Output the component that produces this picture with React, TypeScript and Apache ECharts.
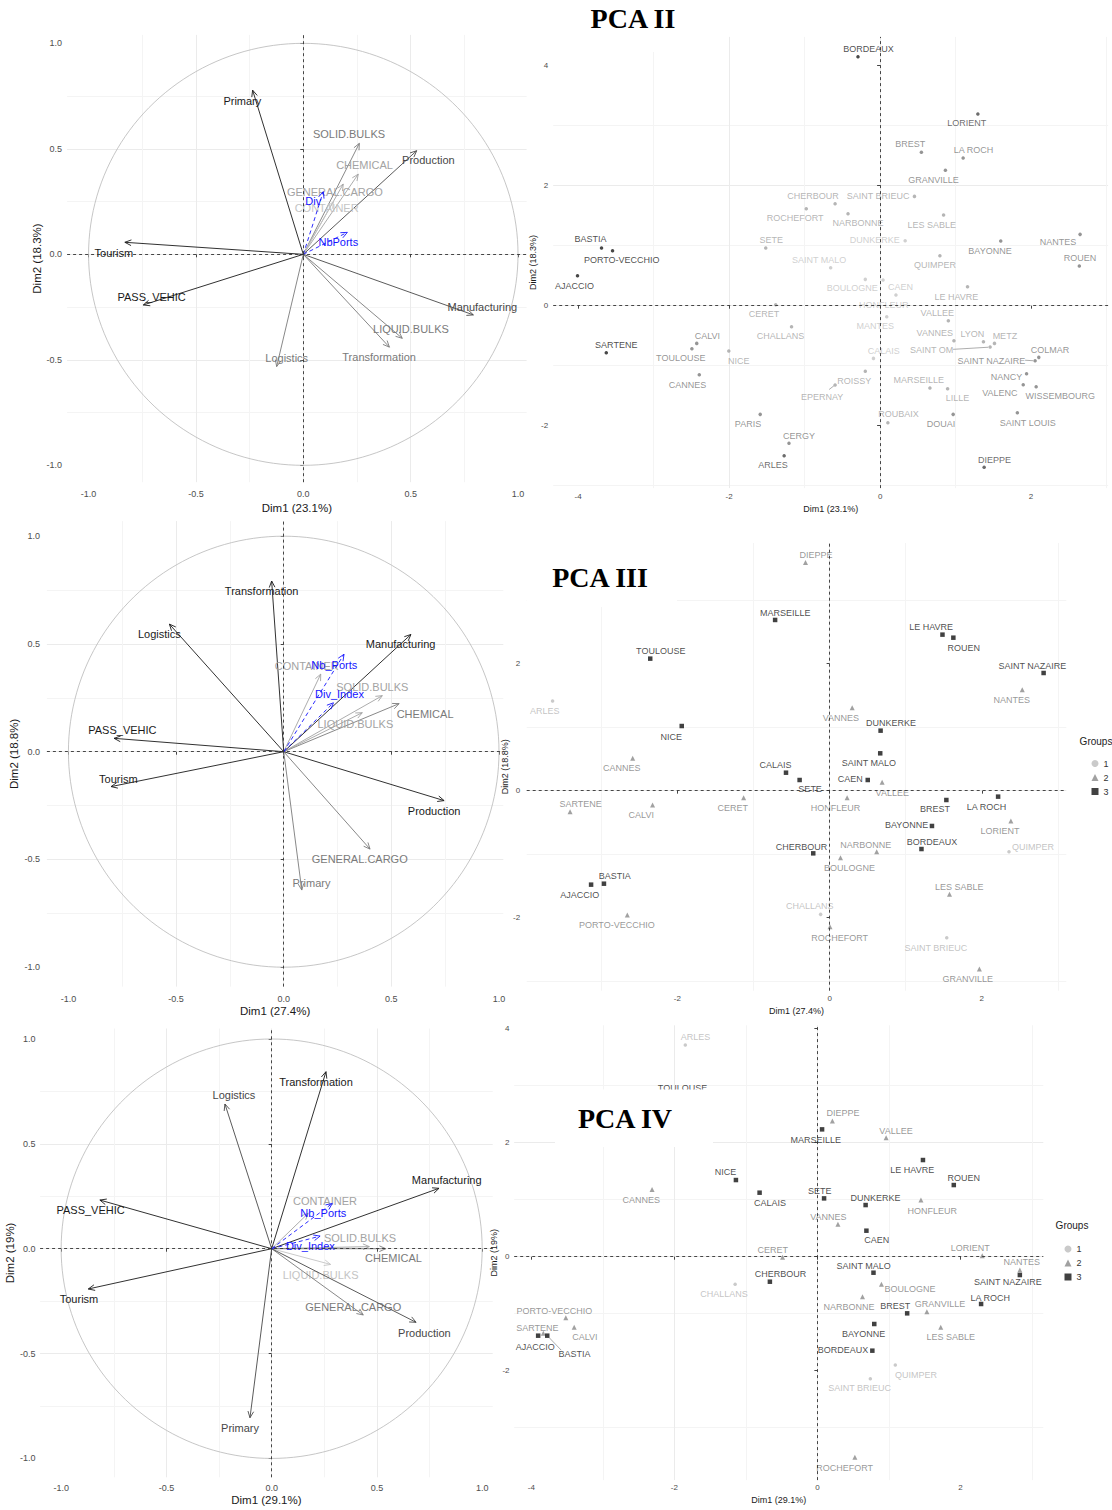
import React, { useEffect, useRef } from "react";
import * as echarts from "echarts";

const FONT = "'Liberation Sans', Arial, sans-serif";
const LABEL_FONT = "'Liberation Sans', Arial, sans-serif";

const CIRCLE_TICKS = [-1, -0.5, 0, 0.5, 1];
const IND_TICKS = [-4, -2, 0, 2, 4];

// ---------- PCA II : variables (contribution class 0 = highest, -1 = supplementary)
const PCA2_VARS = ["Primary", "SOLID.BULKS", "Production", "CHEMICAL", "GENERAL.CARGO", "CONTAINER", "Tourism", "PASS_VEHIC", "Manufacturing", "LIQUID.BULKS", "Transformation", "Logistics", "Div", "NbPorts"];
const PCA2_VAR_X = [-0.236, 0.261, 0.528, 0.256, 0.186, 0.14, -0.831, -0.745, 0.792, 0.461, 0.401, -0.124, 0.093, 0.205];
const PCA2_VAR_Y = [0.778, 0.526, 0.491, 0.38, 0.333, 0.249, 0.057, -0.24, -0.287, -0.398, -0.44, -0.532, 0.297, 0.104];
const PCA2_VAR_CONTRIB = [0, 2, 1, 3, 3, 4, 0, 0, 1, 2, 2, 2, -1, -1];

// ---------- PCA II : individuals
const PCA2_CITIES = ["BORDEAUX", "LORIENT", "BREST", "LA ROCH", "GRANVILLE", "CHERBOUR", "SAINT BRIEUC", "ROCHEFORT", "NARBONNE", "LES SABLE", "SETE", "DUNKERKE", "BAYONNE", "NANTES", "ROUEN", "QUIMPER", "SAINT MALO", "BASTIA", "PORTO-VECCHIO", "AJACCIO", "BOULOGNE", "CAEN", "HONFLEUR", "LE HAVRE", "VALLEE", "MANTES", "CERET", "CHALLANS", "VANNES", "LYON", "METZ", "SAINT OM", "CALAIS", "COLMAR", "SAINT NAZAIRE", "NANCY", "VALENC", "WISSEMBOURG", "MARSEILLE", "LILLE", "ROISSY", "EPERNAY", "PARIS", "ROUBAIX", "DOUAI", "SAINT LOUIS", "CERGY", "ARLES", "DIEPPE", "SARTENE", "CALVI", "TOULOUSE", "NICE", "CANNES"];
const PCA2_X = [-0.293, 1.295, 0.547, 1.1, 0.865, -0.596, 0.455, -0.978, -0.425, 0.841, -1.515, 0.332, 1.598, 2.649, 2.639, 0.792, -0.655, -3.69, -3.544, -4.008, -0.196, 0.039, 0.21, 1.158, 0.904, 0.088, -1.383, -1.173, 0.978, 1.369, 1.515, 1.457, -0.088, 2.102, 2.053, 1.94, 1.896, 2.067, 0.66, 0.894, -0.196, -0.596, -1.588, 0.103, 0.968, 1.818, -1.207, -1.271, 1.378, -3.627, -2.429, -2.493, -2.004, -2.395];
const PCA2_Y = [4.15, 3.194, 2.556, 2.461, 2.256, 1.7, 1.822, 1.617, 1.533, 1.511, 0.961, 1.083, 1.078, 1.189, 0.661, 0.833, 0.633, 0.961, 0.917, 0.5, 0.439, 0.428, 0.178, 0.317, -0.25, -0.183, 0.017, -0.35, -0.583, -0.6, -0.628, -0.689, -0.878, -0.861, -0.917, -1.133, -1.317, -1.35, -1.372, -1.383, -1.094, -1.322, -1.811, -1.95, -1.811, -1.783, -2.294, -2.5, -2.694, -0.783, -0.628, -0.717, -0.756, -1.15];
const PCA2_CONTRIB = [0, 1, 2, 2, 2, 3, 3, 3, 3, 3, 3, 4, 2, 2, 2, 3, 4, 0, 0, 0, 4, 4, 4, 3, 3, 4, 3, 3, 3, 3, 3, 3, 4, 2, 2, 2, 2, 2, 3, 3, 3, 3, 2, 3, 2, 2, 2, 1, 1, 0, 2, 2, 3, 2];

// ---------- PCA III : variables
const PCA3_VARS = ["Transformation", "Logistics", "Manufacturing", "CONTAINER", "SOLID.BULKS", "CHEMICAL", "LIQUID.BULKS", "PASS_VEHIC", "Tourism", "Production", "GENERAL.CARGO", "Primary", "Nb_Ports", "Div_Index"];
const PCA3_VAR_X = [-0.056, -0.531, 0.591, 0.172, 0.458, 0.536, 0.365, -0.788, -0.802, 0.745, 0.401, 0.084, 0.28, 0.231];
const PCA3_VAR_Y = [0.792, 0.592, 0.544, 0.36, 0.26, 0.223, 0.181, 0.062, -0.162, -0.227, -0.452, -0.642, 0.452, 0.227];
const PCA3_VAR_CONTRIB = [0, 0, 0, 3, 3, 2, 3, 0, 0, 0, 2, 2, -1, -1];

// ---------- PCA III : individuals
const PCA3_CITIES = ["DIEPPE", "MARSEILLE", "LE HAVRE", "ROUEN", "TOULOUSE", "SAINT NAZAIRE", "NANTES", "ARLES", "VANNES", "NICE", "DUNKERKE", "SAINT MALO", "CANNES", "CALAIS", "SETE", "CAEN", "VALLEE", "SARTENE", "CALVI", "CERET", "HONFLEUR", "BREST", "LA ROCH", "LORIENT", "BAYONNE", "BORDEAUX", "QUIMPER", "CHERBOUR", "NARBONNE", "BOULOGNE", "BASTIA", "AJACCIO", "LES SABLE", "CHALLANS", "PORTO-VECCHIO", "ROCHEFORT", "SAINT BRIEUC", "GRANVILLE"];
const PCA3_X = [-0.317, -0.716, 1.483, 1.626, -2.357, 2.812, 2.531, -3.64, 0.297, -1.943, 0.67, 0.665, -2.587, -0.573, -0.394, 0.501, 0.69, -3.41, -2.326, -1.13, 0.23, 1.534, 2.214, 2.382, 1.345, 1.207, 2.357, -0.215, 0.619, 0.143, -2.965, -3.134, 1.575, -0.118, -2.658, 0.005, 1.539, 1.968];
const PCA3_Y = [3.591, 2.688, 2.457, 2.409, 2.079, 1.853, 1.591, 1.412, 1.307, 1.018, 0.945, 0.588, 0.509, 0.283, 0.168, 0.168, 0.131, -0.331, -0.226, -0.11, -0.11, -0.147, -0.094, -0.478, -0.556, -0.919, -0.961, -0.987, -0.961, -1.055, -1.465, -1.48, -1.633, -1.948, -1.958, -2.142, -2.315, -2.808];
const PCA3_GROUP = [2, 3, 3, 3, 3, 3, 2, 1, 2, 3, 3, 3, 2, 3, 3, 3, 2, 2, 2, 2, 2, 3, 3, 2, 3, 3, 1, 3, 2, 2, 3, 3, 2, 1, 2, 2, 1, 2];

// ---------- PCA IV : variables
const PCA4_VARS = ["Transformation", "Logistics", "Manufacturing", "PASS_VEHIC", "CONTAINER", "SOLID.BULKS", "CHEMICAL", "LIQUID.BULKS", "GENERAL.CARGO", "Production", "Tourism", "Primary", "Nb_Ports", "Div_Index"];
const PCA4_VAR_X = [0.258, -0.222, 0.795, -0.816, 0.174, 0.464, 0.542, 0.28, 0.435, 0.686, -0.871, -0.103, 0.288, 0.23];
const PCA4_VAR_Y = [0.844, 0.69, 0.288, 0.232, 0.169, 0.01, 0.0, -0.075, -0.316, -0.351, -0.192, -0.806, 0.216, 0.06];
const PCA4_VAR_CONTRIB = [0, 1, 0, 0, 3, 3, 2, 4, 2, 1, 0, 1, -1, -1];

// ---------- PCA IV : individuals
const PCA4_CITIES = ["ARLES", "TOULOUSE", "DIEPPE", "MARSEILLE", "VALLEE", "LE HAVRE", "ROUEN", "NICE", "CANNES", "CALAIS", "SETE", "DUNKERKE", "HONFLEUR", "VANNES", "CAEN", "CERET", "LORIENT", "NANTES", "SAINT NAZAIRE", "SAINT MALO", "CHERBOUR", "CHALLANS", "BOULOGNE", "NARBONNE", "BREST", "GRANVILLE", "LA ROCH", "PORTO-VECCHIO", "SARTENE", "AJACCIO", "BASTIA", "CALVI", "BAYONNE", "LES SABLE", "BORDEAUX", "QUIMPER", "SAINT BRIEUC", "ROCHEFORT"];
const PCA4_X = [-1.847, -1.56, 0.21, 0.066, 0.962, 1.477, 1.908, -1.139, -2.312, -0.808, 0.094, 0.675, 1.449, 0.288, 0.686, -0.487, 2.306, 2.832, 2.832, 0.785, -0.664, -1.15, 0.896, 0.631, 1.256, 1.532, 2.29, -3.518, -3.833, -3.905, -3.778, -3.401, 0.796, 1.726, 0.769, 1.09, 0.741, 0.525];
const PCA4_Y = [3.713, 2.854, 2.38, 2.234, 2.088, 1.696, 1.257, 1.345, 1.181, 1.123, 1.023, 0.906, 0.994, 0.567, 0.456, -0.012, 0.018, -0.234, -0.322, -0.281, -0.439, -0.485, -0.485, -0.702, -0.994, -0.965, -0.83, -1.07, -1.345, -1.386, -1.386, -1.24, -1.181, -1.24, -1.649, -1.901, -2.14, -3.52];
const PCA4_GROUP = [1, 3, 2, 3, 2, 3, 3, 3, 2, 3, 3, 3, 2, 2, 3, 2, 2, 2, 3, 3, 3, 1, 2, 2, 3, 2, 3, 2, 2, 3, 3, 2, 3, 2, 3, 1, 1, 2];

// ---------- layout: label offsets (px) from arrow tip / point
const PCA2_VAR_OFF = [[-10.3, 10.7], [-10.3, -9.3], [11.7, 9.3], [6.3, -9], [-8.3, 7.7], [-6.7, 6.7], [-11, 10.3], [8.3, -8.3], [9, -8.3], [8.7, -9], [-10.3, 10.3], [10, -8.3], [-10, 9], [-9, 10]];
const PCA3_VAR_OFF = [[-10, 10], [-10, 10.3], [-10.3, 10], [-14, -8.6], [-10, -8.3], [26, 10.3], [-6.9, 11.3], [8.3, -8.3], [7.3, -8], [-10, 10.3], [-10.3, 10], [9.7, -7.3], [-9.7, 10.3], [6, -8.7]];
const PCA4_VAR_OFF = [[-10, 10], [9, -8.7], [7.7, -8.3], [-9.3, 10], [16.7, -12.7], [-9.3, -8.3], [7.7, 9], [-10, 10.7], [-10, -8.3], [8.3, 11], [-9.3, 10], [-10, 10], [-9, 9.3], [-9.7, 10]];
const PCA2_OFF = [[10.4, -7.7], [-11.1, 9.3], [-11.1, -8.3], [10.4, -8], [-11.8, 9.7], [-22.2, -8], [-36.3, -0.7], [-11.1, 9.7], [10, 9.7], [-11.8, 10], [5.5, -8], [-30.3, -0.7], [-10.7, 9.7], [-22.2, 7.7], [0.7, -8], [-4.8, 9.7], [-11.5, -7.7], [-11.1, -8.7], [9.2, 9.3], [-3, 10], [-13, 9], [17.4, 7.3], [-12.2, 10], [-11.1, 10], [-11.1, -8], [-11.5, 9.3], [-11.8, 9.7], [-11.1, 9.3], [-19.2, -8], [-11.1, -7.7], [10.4, -7.3], [-58.5, 3], [10.4, -7.7], [11.1, -7.3], [-43.7, 0], [-20, 3], [-23.3, 8], [24, 9.3], [-11.1, -8], [10, 9.7], [-11.1, 9.7], [-13, 11.7], [-12.2, 9.7], [10.7, -8.3], [-12.2, 9.7], [10.4, 10.7], [10, -7.7], [-11.1, 9.3], [10.4, -7.3], [10, -7.7], [10.7, -7.3], [-11.1, 9.7], [10, 9.7], [-11.8, 10]];
const PCA3_OFF = [[10.5, -7.7], [10.1, -7.3], [-11.3, -7.3], [10.5, 10.7], [10.5, -7.3], [-11.3, -7], [-10.5, 10.3], [-7.8, 10], [-11.3, 10], [-10.5, 10.7], [10.5, -8], [-11.3, 10], [-10.9, 9.3], [-10.5, -7.3], [10.5, 9], [-17.5, -0.7], [10.1, 11], [10.5, -7.3], [-11.3, 10], [-10.9, 10.3], [-11.7, 10.3], [-11.3, 9.3], [-11.7, 10], [-10.9, 10], [-25.3, -0.7], [10.5, -7.3], [24.1, -5], [-11.7, -6.7], [-10.9, -6.7], [9, 10.3], [10.9, -7.7], [-11.3, 10], [9.7, -7], [-10.9, -8.3], [-10.5, 10], [9.7, 11.3], [-10.9, 10], [-11.7, 10.3]];
const PCA4_OFF = [[10.3, -7.7], [-23.3, -5.7], [10.7, -7.7], [-6.3, 10.7], [9.9, -7], [-10.7, 10], [9.9, -7.3], [-10.3, -7.7], [-10.7, 10.7], [10.3, 10.7], [-4.3, -7.7], [9.9, -6.7], [11.3, 10.7], [-9.5, -7.7], [10.3, 9.3], [-9.9, -7.3], [-11.9, -8], [2, -8.3], [-11.9, 7.3], [-9.9, -7], [10.7, -7.7], [-11.1, 10], [28.5, 5], [-13.4, 10], [-11.9, -7.3], [13, -7.3], [9.1, -5.7], [-11.5, -7], [-5.9, -5], [-2.8, 11], [27.3, 18], [10.7, 10], [-10.7, 10], [9.9, 10], [-29.3, -0.7], [20.6, 10], [-10.7, 9], [-10.3, 10.3]];
// leader segments: [city, x1, y1, x2, y2] px offsets from the point
const PCA2_LEADERS: [string, number, number, number, number][] = [["SAINT OM", -37, 2.3, -2, 0.2], ["SAINT NAZAIRE", -10, -0.5, -2, 0], ["EPERNAY", -6, 4.5, -1.2, 0.8]];
const PCA4_LEADERS: [string, number, number, number, number][] = [["BASTIA", 2, 2, 14, 14.5]];

const LEVEL_COLORS = ["#1a1a1a", "#474747", "#7a7a7a", "#a3a3a3", "#c4c4c4"];
const SUP_COLOR = "#1414ff";
const GROUP_COLORS: Record<number, string> = { 1: "#bdbdbd", 2: "#8a8a8a", 3: "#111111" };
const GROUP_LABEL_COLORS: Record<number, string> = { 1: "#b5b5b5", 2: "#7d7d7d", 3: "#1a1a1a" };
const GROUP_SYMBOLS: Record<number, string> = { 1: "circle", 2: "triangle", 3: "rect" };
const GROUP_SIZES: Record<number, number> = { 1: 3.5, 2: 5, 3: 4.5 };

type Panel = {
  grid: { left: number; top: number; width: number; height: number };
  xr: [number, number]; yr: [number, number];
  kind: "var" | "ind";
  xName: string; yName: string;
  xGap: number; yGap: number; xMargin: number; yMargin: number;
};

const PANELS: Panel[] = [
  { grid: { left: 67.1, top: 34.9, width: 459.5, height: 447.3 }, xr: [-1.1, 1.04], yr: [-1.08, 1.04], kind: "var", xName: "Dim1 (23.1%)", yName: "Dim2 (18.3%)", xGap: 20, yGap: 23.4, xMargin: 7.5, yMargin: 5 },
  { grid: { left: 553.2, top: 36.9, width: 554.9, height: 451.2 }, xr: [-4.33, 3.02], yr: [-3.04, 4.48], kind: "ind", xName: "Dim1 (23.1%)", yName: "Dim2 (18.3%)", xGap: 16.7, yGap: 13.7, xMargin: 4, yMargin: 5 },
  { grid: { left: 46.9, top: 521.1, width: 456.4, height: 465.5 }, xr: [-1.1, 1.02], yr: [-1.09, 1.07], kind: "var", xName: "Dim1 (27.4%)", yName: "Dim2 (18.8%)", xGap: 17.7, yGap: 23.2, xMargin: 8, yMargin: 7 },
  { grid: { left: 526.7, top: 543, width: 539.6, height: 447.7 }, xr: [-3.98, 3.11], yr: [-3.15, 3.9], kind: "ind", xName: "Dim1 (27.4%)", yName: "Dim2 (18.8%)", xGap: 15.3, yGap: 12.2, xMargin: 3.5, yMargin: 6.5 },
  { grid: { left: 40.1, top: 1028.5, width: 452.6, height: 448.8 }, xr: [-1.1, 1.05], yr: [-1.09, 1.05], kind: "var", xName: "Dim1 (29.1%)", yName: "Dim2 (19%)", xGap: 17, yGap: 22.4, xMargin: 6, yMargin: 4.6 },
  { grid: { left: 514.2, top: 1025.3, width: 529.1, height: 454.8 }, xr: [-4.24, 3.16], yr: [-3.92, 4.06], kind: "ind", xName: "Dim1 (29.1%)", yName: "Dim2 (19%)", xGap: 15.4, yGap: 12.7, xMargin: 3, yMargin: 4.7 },
];

function makeAxis(dim: "x" | "y", i: number, p: Panel) {
  const isVar = p.kind === "var";
  const r = dim === "x" ? p.xr : p.yr;
  const ticks = (isVar ? CIRCLE_TICKS : IND_TICKS).filter((t) => t >= r[0] && t <= r[1]);
  return {
    type: "value",
    gridIndex: i,
    min: r[0],
    max: r[1],
    splitNumber: isVar ? 5 : 4,
    axisLine: { show: false },
    axisTick: { show: true, length: 3, lineStyle: { color: "#444", width: 1 }, customValues: ticks },
    axisLabel: {
      show: true,
      customValues: ticks,
      margin: dim === "x" ? p.xMargin : p.yMargin,
      fontSize: isVar ? 9 : 8,
      color: "#4d4d4d",
      fontFamily: FONT,
      formatter: (v: number) => (isVar ? Number(v).toFixed(1) : String(Math.round(v))),
    },
    splitLine: { show: true, showMinLine: false, showMaxLine: false, lineStyle: { color: "#ebebeb", width: 1 } },
    minorTick: { show: false, splitNumber: 2 },
    minorSplitLine: { show: true, lineStyle: { color: "#f4f4f4", width: 1 } },
    name: dim === "x" ? p.xName : p.yName,
    nameLocation: "middle",
    nameGap: dim === "x" ? p.xGap : p.yGap,
    nameTextStyle: { fontSize: isVar ? 11.5 : 9, color: "#1a1a1a", fontFamily: FONT },
  };
}

function zeroSeries(i: number) {
  return {
    type: "scatter",
    xAxisIndex: i,
    yAxisIndex: i,
    data: [[0, 0]],
    symbolSize: 0,
    silent: true,
    z: 2,
    markLine: {
      silent: true,
      symbol: ["none", "none"],
      label: { show: false },
      lineStyle: { color: "#333", type: [3, 3], width: 0.9 },
      data: [{ xAxis: 0 }, { yAxis: 0 }],
    },
  };
}

function circleSeries(i: number) {
  return {
    type: "custom",
    xAxisIndex: i,
    yAxisIndex: i,
    silent: true,
    z: 2,
    data: [[0, 0]],
    renderItem: (_params: any, api: any) => {
      const pts: number[][] = [];
      for (let a = 0; a <= 360; a += 2) {
        const r = (a * Math.PI) / 180;
        pts.push(api.coord([Math.cos(r), Math.sin(r)]));
      }
      return { type: "polyline", shape: { points: pts }, style: { stroke: "#b8b8b8", lineWidth: 0.8, fill: null } };
    },
  };
}

function arrowSeries(i: number, names: string[], xs: number[], ys: number[], levels: number[], offs: number[][]) {
  return {
    type: "custom",
    xAxisIndex: i,
    yAxisIndex: i,
    silent: true,
    z: 3,
    data: names.map((_n, k) => [xs[k], ys[k], k]),
    renderItem: (params: any, api: any) => {
      const k = params.dataIndex;
      const o = api.coord([0, 0]);
      const t = api.coord([api.value(0), api.value(1)]);
      const sup = levels[k] < 0;
      const color = sup ? SUP_COLOR : LEVEL_COLORS[levels[k]];
      const ang = Math.atan2(t[1] - o[1], t[0] - o[0]);
      const L = 7;
      const A = Math.PI / 7.5;
      const h1 = [t[0] - L * Math.cos(ang - A), t[1] - L * Math.sin(ang - A)];
      const h2 = [t[0] - L * Math.cos(ang + A), t[1] - L * Math.sin(ang + A)];
      const dash = sup ? [4, 3] : null;
      return {
        type: "group",
        children: [
          { type: "line", shape: { x1: o[0], y1: o[1], x2: t[0], y2: t[1] }, style: { stroke: color, lineWidth: 0.9, lineDash: dash, fill: null } },
          { type: "polyline", shape: { points: [h1, t, h2] }, style: { stroke: color, lineWidth: 0.9, fill: null } },
          {
            type: "text",
            x: t[0] + offs[k][0],
            y: t[1] + offs[k][1],
            style: { text: names[k], fill: color, fontSize: 11, fontFamily: FONT, align: "center", verticalAlign: "middle" },
          },
        ],
      };
    },
  };
}

function leaderSeries(i: number, leaders: [string, number, number, number, number][], names: string[], xs: number[], ys: number[]) {
  const rows = leaders.map((l, k) => {
    const idx = names.indexOf(l[0]);
    return [xs[idx], ys[idx], k];
  });
  return {
    type: "custom",
    xAxisIndex: i,
    yAxisIndex: i,
    silent: true,
    z: 3,
    data: rows,
    renderItem: (params: any, api: any) => {
      const l = leaders[params.dataIndex];
      const p = api.coord([api.value(0), api.value(1)]);
      return { type: "line", shape: { x1: p[0] + l[1], y1: p[1] + l[2], x2: p[0] + l[3], y2: p[1] + l[4] }, style: { stroke: "#8a8a8a", lineWidth: 0.7 } };
    },
  };
}

function contribScatter(i: number, names: string[], xs: number[], ys: number[], levels: number[], offs: number[][]) {
  return {
    type: "scatter",
    name: "ind" + i,
    xAxisIndex: i,
    yAxisIndex: i,
    symbol: "circle",
    symbolSize: 3.5,
    silent: true,
    z: 4,
    data: names.map((n, k) => ({
      name: n,
      value: [xs[k], ys[k]],
      itemStyle: { color: LEVEL_COLORS[levels[k]] },
      label: { offset: offs[k], color: LEVEL_COLORS[levels[k]] },
    })),
    label: { show: true, position: "inside", formatter: "{b}", fontSize: 9, fontFamily: LABEL_FONT },
  };
}

function groupScatters(i: number, names: string[], xs: number[], ys: number[], groups: number[], offs: number[][]) {
  return [1, 2, 3].map((g) => ({
    type: "scatter",
    name: "g" + g,
    xAxisIndex: i,
    yAxisIndex: i,
    symbol: GROUP_SYMBOLS[g],
    symbolSize: GROUP_SIZES[g],
    silent: true,
    z: 4,
    itemStyle: { color: GROUP_COLORS[g] },
    data: names
      .map((n, k) => ({ n, k }))
      .filter((o) => groups[o.k] === g)
      .map((o) => ({ name: o.n, value: [xs[o.k], ys[o.k]], label: { offset: offs[o.k] } })),
    label: { show: true, position: "inside", formatter: "{b}", fontSize: 9, fontFamily: LABEL_FONT, color: GROUP_LABEL_COLORS[g] },
  }));
}

function buildOption() {
  const series: any[] = [];
  PANELS.forEach((_p, i) => series.push(zeroSeries(i)));
  series.push(circleSeries(0), arrowSeries(0, PCA2_VARS, PCA2_VAR_X, PCA2_VAR_Y, PCA2_VAR_CONTRIB, PCA2_VAR_OFF));
  series.push(leaderSeries(1, PCA2_LEADERS, PCA2_CITIES, PCA2_X, PCA2_Y), contribScatter(1, PCA2_CITIES, PCA2_X, PCA2_Y, PCA2_CONTRIB, PCA2_OFF));
  series.push(circleSeries(2), arrowSeries(2, PCA3_VARS, PCA3_VAR_X, PCA3_VAR_Y, PCA3_VAR_CONTRIB, PCA3_VAR_OFF));
  series.push(...groupScatters(3, PCA3_CITIES, PCA3_X, PCA3_Y, PCA3_GROUP, PCA3_OFF));
  series.push(circleSeries(4), arrowSeries(4, PCA4_VARS, PCA4_VAR_X, PCA4_VAR_Y, PCA4_VAR_CONTRIB, PCA4_VAR_OFF));
  series.push(leaderSeries(5, PCA4_LEADERS, PCA4_CITIES, PCA4_X, PCA4_Y), ...groupScatters(5, PCA4_CITIES, PCA4_X, PCA4_Y, PCA4_GROUP, PCA4_OFF));

  const legendBase = {
    data: ["g1", "g2", "g3"],
    orient: "vertical",
    itemWidth: 7,
    itemHeight: 7,
    itemGap: 5,
    selectedMode: false,
    formatter: (n: string) => n.slice(1),
    textStyle: { fontSize: 9, color: "#333", fontFamily: FONT },
  };

  const title = (text: string, cx: number, cy: number, box: number[]) => [
    { type: "rect", shape: { x: box[0], y: box[1], width: box[2], height: box[3] }, style: { fill: "#ffffff" }, z: 100, silent: true },
    { type: "text", x: cx, y: cy, style: { text, fill: "#000", font: "bold 28px 'Liberation Serif', 'Times New Roman', serif", align: "center", verticalAlign: "middle" }, z: 101, silent: true },
  ];

  return {
    animation: false,
    backgroundColor: "#ffffff",
    grid: PANELS.map((p) => ({ ...p.grid, containLabel: false })),
    xAxis: PANELS.map((p, i) => makeAxis("x", i, p)),
    yAxis: PANELS.map((p, i) => makeAxis("y", i, p)),
    legend: [
      { ...legendBase, left: 1086.5, top: 754 },
      { ...legendBase, left: 1059.5, top: 1239.5 },
    ],
    graphic: {
      elements: [
        ...title("PCA II", 633, 18, [553, 0, 160, 52]),
        ...title("PCA III", 600, 577, [527, 543, 150, 64]),
        ...title("PCA IV", 625, 1118, [555, 1089.5, 158, 57.5]),
        { type: "text", x: 1096, y: 741, style: { text: "Groups", fill: "#222", font: "10px 'Liberation Sans', Arial", align: "center", verticalAlign: "middle" }, z: 101 },
        { type: "text", x: 1072, y: 1225, style: { text: "Groups", fill: "#222", font: "10px 'Liberation Sans', Arial", align: "center", verticalAlign: "middle" }, z: 101 },
      ],
    },
    series,
  };
}

export default function App() {
  const ref = useRef<HTMLDivElement>(null);
  useEffect(() => {
    const chart = echarts.init(ref.current as HTMLDivElement, null, { renderer: "svg" });
    chart.setOption(buildOption() as any);
    return () => chart.dispose();
  }, []);
  return <div ref={ref} style={{ position: "absolute", left: 0, top: 0, width: 1112, height: 1510, background: "#fff" }} />;
}
